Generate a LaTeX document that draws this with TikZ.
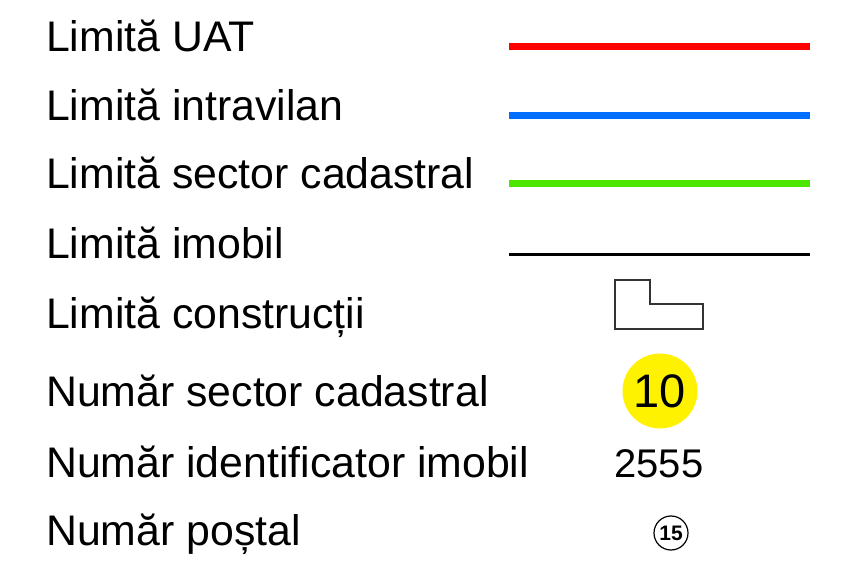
\documentclass[tikz,border=0pt]{standalone}
\usepackage{fontspec}
\setmainfont{Liberation Sans}
\definecolor{uatred}{RGB}{255,0,0}
\definecolor{intrablue}{RGB}{0,110,255}
\definecolor{sectgreen}{RGB}{76,230,0}
\tikzstyle{label}=[anchor=base west, inner sep=0pt, font=\fontsize{42.8}{50}\selectfont]
\tikzstyle{limit}=[line width=7pt]
\tikzstyle{sector}=[circle, fill=yellow, minimum size=75pt, inner sep=0pt, font=\fontsize{47}{50}\selectfont]
\tikzstyle{postal}=[circle, draw, line width=1.2pt, minimum size=34pt, inner sep=0pt, font=\fontsize{21}{24}\selectfont\bfseries]

\begin{document}
\begin{tikzpicture}[x=1pt, y=-1pt]
        \useasboundingbox (0, 0) rectangle (847, 561);
        \node[label] (uat) at (46, 52) {Limită UAT};
        \node[label] (intra) at (46, 121) {Limită intravilan};
        \node[label] (sect) at (46, 189) {Limită sector cadastral};
        \node[label] (imob) at (46, 259) {Limită imobil};
        \node[label] (constr) at (46, 329) {Limită construcții};
        \node[label] (nrsect) at (46, 407) {Număr sector cadastral};
        \node[label] (nrid) at (46, 478) {Număr identificator imobil};
        \node[label] (nrpost) at (46, 545) {Număr poștal};
        % legend lines
        \coordinate (uatA) at (509, 47);
        \coordinate (uatB) at (810, 47);
        \coordinate (intraA) at (509, 116);
        \coordinate (intraB) at (810, 116);
        \coordinate (sectA) at (509, 184);
        \coordinate (sectB) at (810, 184);
        \coordinate (imobA) at (509, 255);
        \coordinate (imobB) at (810, 255);
        \draw[limit, uatred] (uatA) -- (uatB);
        \draw[limit, intrablue] (intraA) -- (intraB);
        \draw[limit, sectgreen] (sectA) -- (sectB);
        \draw[line width=3pt] (imobA) -- (imobB);
        % building outline
        \coordinate (bld) at (615, 280);
        \draw[line width=1.5pt, black!80] (bld) -- ++(35, 0) -- ++(0, 24) -- ++(53, 0) -- ++(0, 25) -- ++(-88, 0) -- cycle;
        \node[sector] (sectnr) at (660, 391) {10};
        \node[anchor=base, inner sep=0pt, font=\fontsize{40}{44}\selectfont] (idnr) at (659, 478) {2555};
        \node[postal] (postnr) at (671, 533) {15};
    \end{tikzpicture}
\end{document}
